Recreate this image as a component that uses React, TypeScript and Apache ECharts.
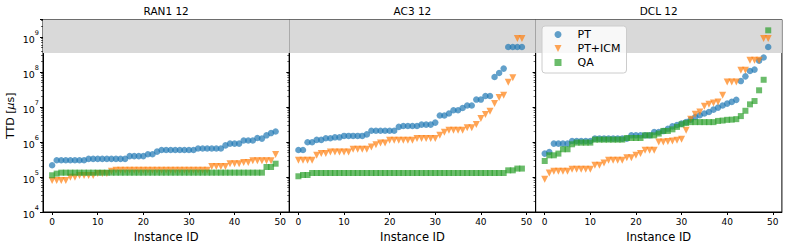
import React, { useEffect, useRef } from 'react';
import * as echarts from 'echarts';

const panelTitles = ['RAN1 12', 'AC3 12', 'DCL 12'];
const seriesNames = ['PT', 'PT+ICM', 'QA'];
const seriesColors = ['#1f77b4', '#ff7f0e', '#2ca02c'];
const xTickValues = [0, 10, 20, 30, 40, 50];
const yMin = 1e4;
const yMax = 3.1623e9;
const timeoutLevel = 3.5e8;

const ran1PT = [2.16e5, 3.0e5, 3.0e5, 3.0e5, 3.0e5, 3.0e5, 3.0e5, 3.0e5, 3.3e5, 3.3e5,
  3.3e5, 3.3e5, 3.3e5, 3.3e5, 3.3e5, 3.3e5, 3.3e5, 3.95e5, 3.95e5, 3.95e5,
  3.95e5, 4.45e5, 4.45e5, 5.3e5, 5.9e5, 5.9e5, 5.9e5, 5.9e5, 5.9e5, 5.9e5,
  5.9e5, 5.9e5, 6.5e5, 6.5e5, 6.5e5, 6.5e5, 6.5e5, 6.5e5, 8.0e5, 9.0e5,
  9.0e5, 9.0e5, 1.1e6, 1.1e6, 1.1e6, 1.3e6, 1.25e6, 1.55e6, 1.8e6, 2.0e6];
const ran1PTICM = [8.0e4, 8.0e4, 8.0e4, 8.0e4, 9.8e4, 9.8e4, 1.1e5, 1.1e5, 1.1e5, 1.1e5,
  1.25e5, 1.25e5, 1.25e5, 1.45e5, 1.55e5, 1.55e5, 1.55e5, 1.55e5, 1.55e5, 1.55e5,
  1.55e5, 1.55e5, 1.55e5, 1.55e5, 1.55e5, 1.55e5, 1.55e5, 1.55e5, 1.55e5, 1.55e5,
  1.55e5, 1.55e5, 1.55e5, 1.55e5, 1.55e5, 2.0e5, 2.0e5, 2.0e5, 2.0e5, 2.4e5,
  2.4e5, 2.4e5, 2.6e5, 2.6e5, 2.9e5, 2.9e5, 2.9e5, 2.9e5, 2.9e5, 4.4e5];
const ran1QA = [1.12e5, 1.25e5, 1.33e5, 1.33e5, 1.33e5, 1.33e5, 1.33e5, 1.33e5, 1.33e5, 1.33e5,
  1.33e5, 1.33e5, 1.33e5, 1.33e5, 1.33e5, 1.33e5, 1.33e5, 1.33e5, 1.33e5, 1.33e5,
  1.33e5, 1.33e5, 1.33e5, 1.33e5, 1.33e5, 1.33e5, 1.33e5, 1.33e5, 1.33e5, 1.33e5,
  1.33e5, 1.33e5, 1.33e5, 1.33e5, 1.33e5, 1.33e5, 1.33e5, 1.33e5, 1.33e5, 1.33e5,
  1.33e5, 1.33e5, 1.33e5, 1.33e5, 1.33e5, 1.33e5, 1.33e5, 1.93e5, 1.93e5, 2.4e5];

const ac3PT = [5.9e5, 5.9e5, 9.8e5, 9.8e5, 1.15e6, 1.15e6, 1.28e6, 1.28e6, 1.36e6, 1.36e6,
  1.49e6, 1.49e6, 1.49e6, 1.49e6, 1.49e6, 1.65e6, 2.1e6, 2.1e6, 2.1e6, 2.1e6,
  2.1e6, 2.1e6, 2.7e6, 2.86e6, 2.86e6, 2.86e6, 2.86e6, 3.14e6, 3.14e6, 3.14e6,
  3.58e6, 5.7e6, 5.7e6, 6.5e6, 8.05e6, 8.05e6, 9.4e6, 1.1e7, 1.1e7, 1.63e7,
  1.63e7, 2.06e7, 2.06e7, 7.2e7, 9.4e7, 1.25e8, 5.2e8, 5.2e8, 5.2e8, 5.2e8];
const ac3PTICM = [3.0e5, 3.0e5, 3.0e5, 3.0e5, 4.2e5, 4.66e5, 4.66e5, 5.2e5, 5.2e5, 5.2e5,
  5.2e5, 5.2e5, 6.2e5, 6.2e5, 6.2e5, 6.2e5, 7.2e5, 8.4e5, 9.4e5, 9.4e5,
  1.12e6, 1.12e6, 1.12e6, 1.12e6, 1.12e6, 1.12e6, 1.26e6, 1.26e6, 1.26e6, 1.26e6,
  1.26e6, 1.55e6, 1.9e6, 2.16e6, 2.16e6, 2.16e6, 2.16e6, 2.57e6, 2.57e6, 3.15e6,
  4.7e6, 6.07e6, 7.5e6, 1.25e7, 1.86e7, 2.16e7, 5.1e7, 6.9e7, 9.0e8, 9.0e8];
const ac3QA = [1.05e5, 1.14e5, 1.14e5, 1.3e5, 1.3e5, 1.3e5, 1.3e5, 1.3e5, 1.3e5, 1.3e5,
  1.3e5, 1.3e5, 1.3e5, 1.3e5, 1.3e5, 1.3e5, 1.3e5, 1.3e5, 1.3e5, 1.3e5,
  1.3e5, 1.3e5, 1.3e5, 1.3e5, 1.3e5, 1.3e5, 1.3e5, 1.3e5, 1.3e5, 1.3e5,
  1.3e5, 1.3e5, 1.3e5, 1.3e5, 1.3e5, 1.3e5, 1.3e5, 1.3e5, 1.3e5, 1.3e5,
  1.3e5, 1.3e5, 1.3e5, 1.3e5, 1.3e5, 1.3e5, 1.55e5, 1.55e5, 1.74e5, 1.74e5];

const dclPT = [4.66e5, 5.2e5, 9.0e5, 9.0e5, 9.0e5, 9.0e5, 1.07e6, 1.07e6, 1.07e6, 1.07e6,
  1.07e6, 1.25e6, 1.25e6, 1.25e6, 1.25e6, 1.25e6, 1.25e6, 1.25e6, 1.25e6, 1.55e6,
  1.55e6, 1.55e6, 1.55e6, 1.55e6, 1.93e6, 1.93e6, 2.05e6, 2.4e6, 2.8e6, 3.06e6,
  3.35e6, 3.7e6, 4.35e6, 5.2e6, 5.8e6, 6.5e6, 7.2e6, 8.4e6, 9.6e6, 1.1e7,
  1.25e7, 1.4e7, 1.6e7, 5.5e7, 7.5e7, 1.07e8, 1.17e8, 2.1e8, 2.6e8, 5.2e8];
const dclPTICM = [8.6e4, 1.3e5, 1.46e5, 1.46e5, 1.46e5, 1.46e5, 1.66e5, 1.66e5, 1.66e5, 1.66e5,
  1.66e5, 2.16e5, 2.16e5, 2.5e5, 3.0e5, 3.0e5, 3.0e5, 3.0e5, 3.57e5, 3.57e5,
  4.17e5, 4.66e5, 5.8e5, 5.8e5, 5.8e5, 1.0e6, 1.0e6, 1.03e6, 1.07e6, 1.12e6,
  1.2e6, 2.16e6, 4.5e6, 6.2e6, 7.2e6, 1.05e7, 1.19e7, 1.3e7, 1.39e7, 2.16e7,
  5.2e7, 5.2e7, 5.2e7, 1.12e8, 1.12e8, 2.16e8, 2.16e8, 2.16e8, 9.0e8, 9.0e8];
const dclQA = [2.87e5, 4.17e5, 4.17e5, 4.66e5, 6.2e5, 6.2e5, 8.6e5, 9.6e5, 9.6e5, 9.6e5,
  9.6e5, 1.17e6, 1.17e6, 1.17e6, 1.17e6, 1.17e6, 1.17e6, 1.17e6, 1.3e6, 1.3e6,
  1.3e6, 1.3e6, 1.55e6, 1.55e6, 1.55e6, 1.74e6, 2.07e6, 2.07e6, 2.3e6, 2.7e6,
  3.2e6, 3.5e6, 3.7e6, 3.7e6, 3.7e6, 3.7e6, 3.7e6, 3.7e6, 4.0e6, 4.1e6,
  4.3e6, 4.35e6, 4.5e6, 5.5e6, 7.8e6, 1.19e7, 1.48e7, 3.0e7, 6.0e7, 1.55e9];

const panelData = [
  [ran1PT, ran1PTICM, ran1QA],
  [ac3PT, ac3PTICM, ac3QA],
  [dclPT, dclPTICM, dclQA],
];

const FONT = 'DejaVu Sans';
const TRI_DOWN = 'path://M0,0L10,0L5,10Z';
const symbols = ['circle', TRI_DOWN, 'rect'];
const symbolSizes = [6.5, 7, 6];

const gridLefts = [43, 289.3, 535.6];
const gridWidth = 246.3;
const gridTop = 19.5;
const gridHeight = 192.5;

function buildOption() {
  const minorTicks: number[] = [];
  for (let d = 4; d <= 9; d++) {
    for (let k = 2; k <= 9; k++) {
      const v = Math.log10(k) + d;
      if (v < 9.5) minorTicks.push(v);
    }
  }

  const grids = gridLefts.map((l) => ({
    left: l, top: gridTop, width: gridWidth, height: gridHeight,
    show: true, borderColor: '#000', borderWidth: 1, backgroundColor: 'transparent',
  }));

  const xAxes = gridLefts.map((_, i) => ({
    gridIndex: i, type: 'value', min: -2, max: 52,
    axisLine: { show: true, onZero: false, lineStyle: { color: '#000', width: 1 } },
    axisTick: { show: true, length: 3, customValues: xTickValues, lineStyle: { color: '#000', width: 1 } },
    axisLabel: { customValues: xTickValues, fontSize: 9, fontFamily: FONT, color: '#000', margin: 5 },
    splitLine: { show: false },
    name: 'Instance ID', nameLocation: 'middle', nameGap: 17,
    nameTextStyle: { fontSize: 11.5, fontFamily: FONT, color: '#000', verticalAlign: 'top' },
  }));

  const yMain = gridLefts.map((_, i) => ({
    gridIndex: i, type: 'log', logBase: 10, min: yMin, max: yMax,
    axisLine: { show: true, onZero: false, lineStyle: { color: '#000', width: 1 } },
    axisTick: { show: true, length: 3, lineStyle: { color: '#000', width: 1 } },
    axisLabel: {
      show: i === 0, margin: 4,
      formatter: (v: number) => {
        const l = Math.log10(v);
        const e = Math.round(l);
        if (Math.abs(l - e) > 1e-6) return '';
        return `{b|10}{s|${e}}`;
      },
      rich: {
        b: { fontSize: 9.5, fontFamily: FONT, color: '#000', lineHeight: 15, verticalAlign: 'bottom' },
        s: { fontSize: 6.5, fontFamily: FONT, color: '#000', lineHeight: 7, verticalAlign: 'top' },
      },
    },
    splitLine: { show: false },
    ...(i === 0 ? {
      name: '{n|TTD [}{i|μ}{n|s]}', nameLocation: 'middle', nameGap: 27, nameRotate: 90,
      nameTextStyle: {
        rich: {
          n: { fontSize: 11, fontFamily: FONT, color: '#000' },
          i: { fontSize: 11, fontFamily: FONT, color: '#000', fontStyle: 'italic' },
        },
      },
    } : {}),
  }));

  const yMinor = gridLefts.map((_, i) => ({
    gridIndex: i, type: 'value', min: 4, max: 9.5, position: 'left',
    axisLine: { show: false, onZero: false },
    axisLabel: { show: false },
    axisTick: { show: true, length: 2, customValues: minorTicks, lineStyle: { color: '#000', width: 0.6 } },
    splitLine: { show: false },
  }));

  const series: any[] = [];
  gridLefts.forEach((_, i) => {
    series.push({
      type: 'scatter', xAxisIndex: i, yAxisIndex: i, data: [], silent: true, z: 1,
      markArea: {
        silent: true,
        itemStyle: { color: '#d9d9d9' },
        data: [[{ yAxis: timeoutLevel }, { yAxis: yMax }]],
      },
    });
    panelData[i].forEach((vals, j) => {
      series.push({
        type: 'scatter', name: seriesNames[j], xAxisIndex: i, yAxisIndex: i,
        data: vals.map((v, k) => [k, v]),
        symbol: symbols[j], symbolSize: symbolSizes[j],
        itemStyle: { color: seriesColors[j], opacity: 0.7 },
        z: 3 + j,
      });
    });
  });

  const graphic = panelTitles.map((t, i) => ({
    type: 'text', x: gridLefts[i] + gridWidth / 2, y: 11,
    style: { text: t, align: 'center', verticalAlign: 'middle', font: `10.5px "${FONT}"`, fill: '#000' },
  }));

  return {
    animation: false,
    grid: grids,
    xAxis: xAxes,
    yAxis: [...yMain, ...yMinor],
    series,
    graphic,
    legend: {
      left: 542, top: 26, orient: 'vertical',
      data: [
        { name: 'PT', icon: 'circle' },
        { name: 'PT+ICM', icon: TRI_DOWN },
        { name: 'QA', icon: 'rect' },
      ],
      itemWidth: 7, itemHeight: 7, itemGap: 3,
      padding: [3, 6, 5, 12.5],
      backgroundColor: 'rgba(255,255,255,0.8)',
      borderColor: '#cccccc', borderWidth: 1, borderRadius: 3,
      itemStyle: { opacity: 0.7 },
      textStyle: { fontSize: 11, fontFamily: FONT, color: '#000', padding: [0, 0, 0, 11] },
      selectedMode: false,
    },
  };
}

export default function App() {
  const ref = useRef<HTMLDivElement>(null);
  useEffect(() => {
    document.body.style.margin = '0';
    const chart = echarts.init(ref.current!, null, { renderer: 'svg' });
    chart.setOption(buildOption() as any);
    return () => chart.dispose();
  }, []);
  return <div ref={ref} style={{ width: 789, height: 248 }} />;
}
